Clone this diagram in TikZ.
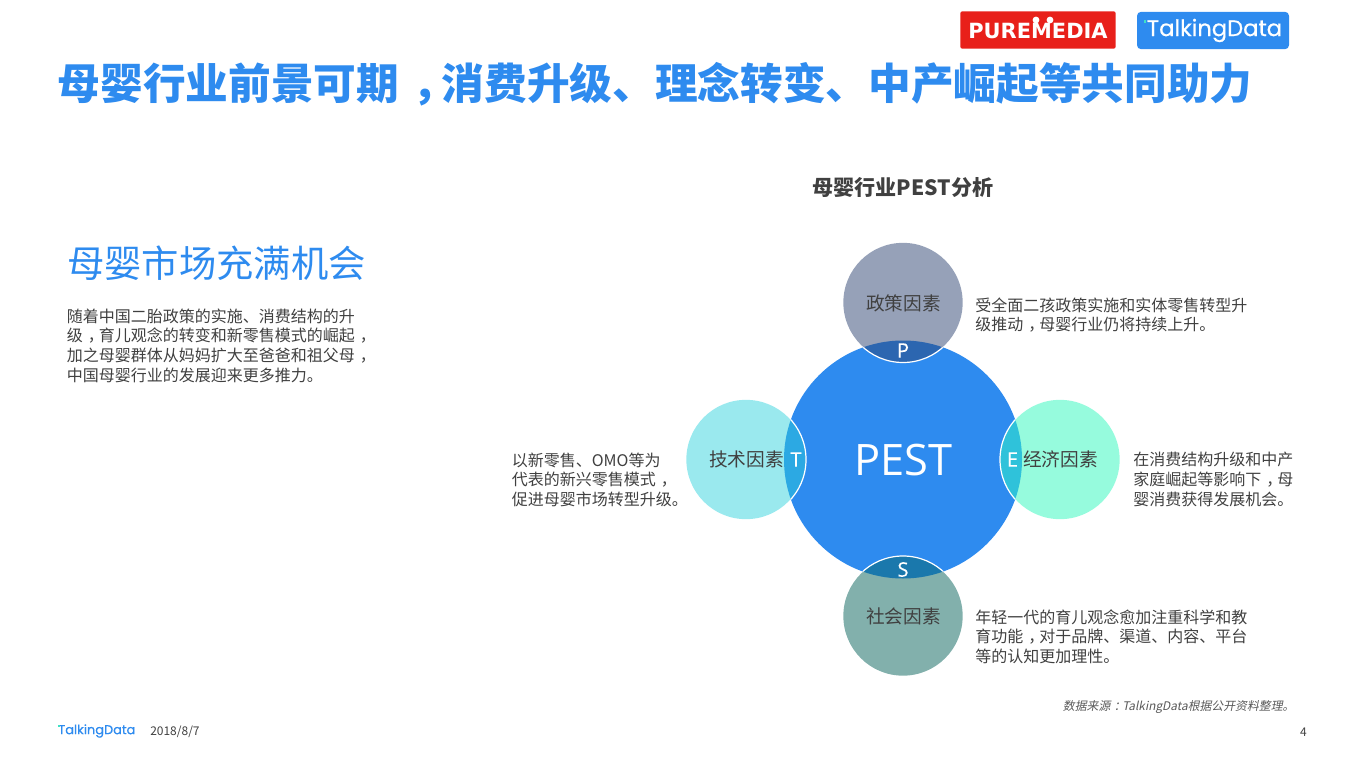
\documentclass[tikz,border=0pt]{standalone}
\usepackage{fontspec}
\setmainfont{Noto Sans CJK SC}
\newcommand{\cma}{\kern.32em，\kern-.32em}
\newcommand{\cln}{\kern.3em：\kern-.3em}
\newfontfamily\latinfont{Open Sans}
\newfontfamily\letterfont[FakeBold=0.4]{Open Sans}
\newfontfamily\logofont[FakeBold=0.6]{Poppins}
\newfontfamily\heavyfont{DejaVu Sans}
\definecolor{tdblue}{HTML}{2E8BEF}
\definecolor{ink}{HTML}{404040}
\definecolor{srcink}{HTML}{595959}
\definecolor{pmred}{HTML}{E8201A}
\definecolor{teal}{HTML}{3FE0C5}
\definecolor{polc}{HTML}{96A1B8}
\definecolor{polo}{HTML}{2C66B0}
\definecolor{tecc}{HTML}{9AE9EE}
\definecolor{teco}{HTML}{2CA9E3}
\definecolor{ecoc}{HTML}{96FBDD}
\definecolor{ecoo}{HTML}{2FC2DA}
\definecolor{socc}{HTML}{82B0AC}
\definecolor{soco}{HTML}{1A78AC}
\tikzset{
  x=0.75pt,y=-0.75pt,
  body/.style={anchor=west,inner sep=0pt,text=ink,font=\fontsize{12}{14.7}\selectfont,align=left},
  factor/.style={text=ink,inner sep=0pt,font=\fontsize{14}{16}\selectfont},
  letter/.style={text=white,inner sep=0pt,font=\letterfont\fontsize{15}{16}\selectfont},
  small/.style={circle,minimum size=89.5pt,inner sep=0pt,fill=#1},
}
\begin{document}
\begin{tikzpicture}
\useasboundingbox (0,0) rectangle (1364,767);
% logos
\node[fill=pmred,rounded corners=1.5pt,minimum width=116.5pt,minimum height=28pt,inner sep=0pt,text=white] (pm) at (1038,30) {};
\node[inner sep=0pt,text=white] (pmt) at (1038,31) {\heavyfont\bfseries\fontsize{15.7}{16}\selectfont PUREMEDIA};
\fill[white] (1036,20) circle (3.4) (1050,20) circle (3.4);
\node[fill=tdblue,rounded corners=3pt,minimum width=114pt,minimum height=28pt,inner sep=0pt] (tdl) at (1213,30.5) {};
\node[inner sep=0pt,text=white] (tdt) at (1214.5,30.5) {\logofont\fontsize{17}{18}\selectfont TalkingData};
\fill[teal] (1143.5,20.5) rectangle (1146,23);
% title
\node[anchor=west,inner sep=0pt,text=tdblue,font=\bfseries\fontsize{32}{36}\selectfont] (title) at (57.5,84) {母婴行业前景可期\cma 消费升级、理念转变、中产崛起等共同助力};
% left block
\node[anchor=west,inner sep=0pt,text=tdblue,font=\fontsize{28}{32}\selectfont] (head) at (67,263) {母婴市场充满机会};
\node[body] (lefttext) at (66.5,345.5) {随着中国二胎政策的实施、消费结构的升\\级\cma 育儿观念的转变和新零售模式的崛起\cma \\加之母婴群体从妈妈扩大至爸爸和祖父母\cma \\中国母婴行业的发展迎来更多推力。};
% chart title
\node[inner sep=0pt,text=ink,font=\bfseries\fontsize{15.8}{18}\selectfont] (ctitle) at (903,188) {母婴行业PEST分析};
% circles
\node[circle,minimum size=178.5pt,inner sep=0pt,fill=tdblue] (main) at (903,459.5) {};
\node[small=polc] (pol) at (903,302.5) {};
\node[small=tecc] (tec) at (746,459.5) {};
\node[small=ecoc] (eco) at (1060,459.5) {};
\node[small=socc] (soc) at (903,616) {};
% overlaps
\begin{scope}
\clip (main.center) circle (119);
\fill[polo] (pol.center) circle (60);
\fill[teco] (tec.center) circle (60);
\fill[ecoo] (eco.center) circle (60);
\fill[soco] (soc.center) circle (60);
\draw[white,line width=0.9pt] (pol.center) circle (60);
\draw[white,line width=0.9pt] (tec.center) circle (60);
\draw[white,line width=0.9pt] (eco.center) circle (60);
\draw[white,line width=0.9pt] (soc.center) circle (60);
\end{scope}
% labels
\node[text=white,inner sep=0pt,font=\latinfont\fontsize{32.5}{36}\selectfont] (pest) at (903.5,460) {PEST};
\node[letter] (lp) at (903,350.5) {P};
\node[letter] (lt) at (796,459.5) {T};
\node[letter] (le) at (1012.5,459.5) {E};
\node[letter] (ls) at (903,569.5) {S};
\node[factor] (fp) at (903.5,303) {政策因素};
\node[factor] (ft) at (746.5,459.5) {技术因素};
\node[factor] (fe) at (1060.5,459.5) {经济因素};
\node[factor] (fs) at (903.5,616.5) {社会因素};
% descriptions
\node[body] (dp) at (975,315) {受全面二孩政策实施和实体零售转型升\\级推动\cma 母婴行业仍将持续上升。};
\node[body] (dt) at (511.5,479.5) {以新零售、OMO等为\\代表的新兴零售模式\cma \\促进母婴市场转型升级。};
\node[body] (de) at (1133,479.5) {在消费结构升级和中产\\家庭崛起等影响下\cma 母\\婴消费获得发展机会。};
\node[body] (ds) at (975,636.5) {年轻一代的育儿观念愈加注重科学和教\\育功能\cma 对于品牌、渠道、内容、平台\\等的认知更加理性。};
% footer
\node[anchor=east,inner sep=0pt,text=srcink,font=\fontsize{8.9}{11}\selectfont,xslant=0.2] (src) at (1295.5,706.5) {数据来源\cln TalkingData根据公开资料整理。};
\node[anchor=west,inner sep=0pt,text=tdblue,font=\logofont\fontsize{9.7}{12}\selectfont] (tdf) at (58,731) {TalkingData};
\fill[teal] (58,725) rectangle (60,727);
\node[anchor=west,inner sep=0pt,text=ink,font=\fontsize{9}{11}\selectfont] (date) at (150,732) {2018/8/7};
\node[anchor=east,inner sep=0pt,text=ink,font=\fontsize{9}{11}\selectfont] (page) at (1307,732) {4};
\end{tikzpicture}
\end{document}
